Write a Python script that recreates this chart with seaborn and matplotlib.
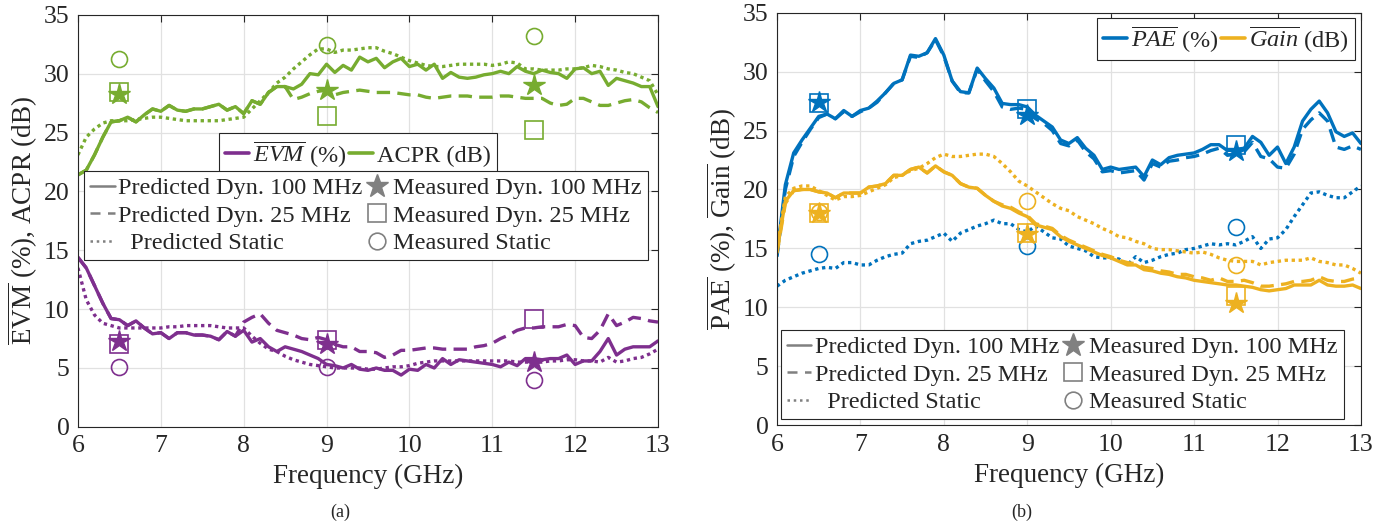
import numpy as np
import matplotlib
matplotlib.use("Agg")
import matplotlib.pyplot as plt
from matplotlib.lines import Line2D
import seaborn as sns

# ---------------- data ----------------
freq = np.round(np.linspace(6.0, 13.0, 71), 1)
meas_freq = [6.5, 9.0, 11.5]

acpr_dyn100 = [21.4, 21.8, 23.1, 24.6, 25.9, 26.0, 26.3, 25.9, 26.5, 27.0,
               26.8, 27.3, 26.9, 26.8, 27.0, 27.0, 27.2, 27.4, 26.9, 27.2,
               26.6, 27.7, 27.4, 28.4, 28.9, 28.9, 28.7, 29.1, 30.0, 29.9,
               30.8, 30.1, 30.7, 30.3, 31.4, 31.0, 31.3, 30.5, 31.0, 31.3,
               30.6, 30.8, 30.3, 30.8, 29.6, 30.1, 29.7, 29.6, 29.7, 29.9,
               30.0, 30.2, 30.0, 30.6, 30.2, 30.0, 30.3, 30.1, 30.0, 29.6,
               30.4, 30.5, 30.0, 30.2, 29.0, 29.6, 29.4, 29.2, 28.9, 28.9,
               27.2]
acpr_dyn25 = [21.4, 21.8, 23.1, 24.6, 25.9, 26.0, 26.3, 25.9, 26.5, 27.0,
              26.8, 27.3, 26.9, 26.8, 27.0, 27.0, 27.2, 27.4, 26.9, 27.2,
              26.6, 27.7, 27.4, 28.4, 28.9, 28.9, 27.8, 28.0, 28.3, 28.5,
              28.6, 28.2, 28.4, 28.5, 28.6, 28.5, 28.4, 28.4, 28.4, 28.3,
              28.2, 28.2, 28.0, 27.9, 28.0, 28.1, 28.1, 28.1, 28.0, 28.0,
              28.0, 28.1, 28.1, 28.0, 27.9, 27.9, 27.9, 27.5, 27.3, 27.4,
              27.9, 27.9, 27.6, 27.3, 27.3, 27.5, 27.7, 27.8, 27.6, 27.1,
              26.7]
acpr_static = [23.1, 24.6, 25.3, 25.8, 26.0, 26.0, 26.0, 26.1, 26.2, 26.3,
               26.3, 26.2, 26.1, 26.0, 26.0, 26.0, 26.0, 26.0, 26.1, 26.2,
               26.3, 27.0, 27.7, 28.4, 29.2, 29.7, 30.4, 31.0, 31.6, 32.1,
               32.1, 31.8, 32.0, 32.0, 32.1, 32.2, 32.2, 31.9, 31.7, 31.4,
               31.1, 30.9, 30.7, 30.6, 30.6, 30.7, 30.8, 30.8, 30.8, 30.8,
               30.7, 30.8, 31.0, 30.9, 30.4, 30.4, 30.3, 30.3, 30.3, 30.4,
               30.4, 30.5, 30.7, 30.6, 30.4, 30.3, 30.1, 30.0, 29.7, 29.4,
               28.2]
acpr_meas_dyn100 = [28.3, 28.6, 29.0]
acpr_meas_dyn25 = [28.4, 26.4, 25.2]
acpr_meas_static = [31.2, 32.4, 33.2]

evm_dyn100 = [14.4, 13.5, 12.0, 10.5, 9.2, 9.1, 8.6, 9.0, 8.4, 7.9,
              8.0, 7.5, 8.0, 8.0, 7.8, 7.8, 7.7, 7.4, 8.1, 7.7,
              8.2, 7.2, 7.5, 6.8, 6.4, 6.8, 6.6, 6.4, 6.1, 5.8,
              5.3, 5.2, 5.0, 5.3, 4.9, 4.8, 5.0, 4.8, 4.8, 4.4,
              4.9, 4.8, 5.3, 5.0, 5.8, 5.3, 5.7, 5.6, 5.5, 5.4,
              5.3, 5.1, 5.5, 5.2, 5.8, 5.8, 5.7, 5.8, 5.8, 6.1,
              5.3, 5.6, 5.6, 6.4, 7.5, 6.1, 6.6, 6.8, 6.8, 6.8,
              7.3]
evm_dyn25 = [14.4, 13.5, 12.0, 10.5, 9.2, 9.1, 8.6, 9.0, 8.4, 7.9,
             8.0, 7.5, 8.0, 8.0, 7.8, 7.8, 7.7, 7.4, 8.1, 7.7,
             8.9, 9.3, 9.6, 8.8, 8.2, 8.0, 7.8, 7.5, 7.4, 7.6,
             7.4, 7.0, 6.8, 6.8, 6.4, 6.4, 6.3, 5.9, 6.1, 6.5,
             6.5, 6.6, 6.7, 6.7, 6.6, 6.6, 6.6, 6.6, 6.8, 6.9,
             7.1, 7.5, 7.8, 8.2, 8.4, 8.4, 8.5, 8.5, 8.5, 8.7,
             8.6, 7.6, 7.5, 8.2, 9.6, 8.6, 8.9, 9.3, 9.2, 9.0,
             8.9]
evm_static = [13.5, 10.8, 9.5, 8.8, 8.6, 8.4, 8.4, 8.4, 8.4, 8.4,
              8.4, 8.5, 8.5, 8.6, 8.6, 8.6, 8.6, 8.5, 8.4, 8.4,
              8.4, 7.7, 7.1, 6.6, 6.4, 6.0, 5.7, 5.5, 5.3, 5.2,
              5.1, 5.0, 5.0, 5.0, 5.0, 4.9, 4.9, 5.0, 5.1, 5.1,
              5.2, 5.4, 5.5, 5.6, 5.6, 5.6, 5.6, 5.6, 5.6, 5.6,
              5.6, 5.6, 5.6, 5.5, 5.5, 5.5, 5.5, 5.6, 5.6, 5.7,
              5.7, 5.6, 5.6, 5.5, 5.9, 5.5, 5.6, 5.8, 5.9, 6.2,
              6.6]
evm_meas_dyn100 = [7.3, 7.0, 5.5]
evm_meas_dyn25 = [7.0, 7.4, 9.2]
evm_meas_static = [5.1, 5.1, 4.0]

pae_dyn100 = [14.5, 20.4, 23.1, 24.2, 25.2, 26.2, 26.4, 26.0, 26.7, 26.2,
              26.7, 26.9, 27.5, 28.2, 29.0, 29.3, 31.4, 31.3, 31.6, 32.8,
              31.4, 29.2, 28.3, 28.2, 30.3, 29.4, 28.6, 27.3, 27.2, 27.2,
              27.0, 26.3, 25.8, 25.3, 24.2, 23.9, 24.4, 23.5, 22.9, 21.7,
              21.9, 21.7, 21.8, 21.9, 21.1, 22.5, 22.1, 22.7, 22.9, 23.0,
              23.1, 23.4, 23.8, 23.8, 23.3, 23.4, 23.5, 24.5, 24.0, 22.9,
              23.6, 22.2, 23.6, 25.8, 26.8, 27.5, 26.5, 24.9, 24.5, 24.8,
              23.9]
pae_dyn25 = [14.3, 20.0, 22.8, 24.0, 25.1, 26.1, 26.4, 26.0, 26.6, 26.2,
             26.6, 26.9, 27.4, 28.2, 29.0, 29.3, 31.3, 31.2, 31.6, 32.7,
             31.3, 29.2, 28.2, 28.2, 30.2, 29.2, 28.3, 27.0, 26.8, 26.9,
             26.8, 26.0, 25.6, 25.0, 23.9, 23.7, 24.2, 23.2, 22.6, 21.5,
             21.6, 21.4, 21.5, 21.6, 20.8, 22.2, 21.9, 22.4, 22.5, 22.7,
             22.8, 23.0, 23.3, 23.5, 22.9, 23.0, 23.2, 24.0, 22.8, 22.6,
             21.9, 21.8, 23.0, 25.1, 25.9, 26.5, 25.8, 23.6, 23.4, 23.7,
             23.4]
pae_static = [11.8, 12.3, 12.6, 12.9, 13.1, 13.3, 13.4, 13.3, 13.8, 13.8,
              13.6, 13.6, 14.0, 14.3, 14.5, 14.6, 15.4, 15.6, 15.7, 16.0,
              16.3, 15.6, 16.3, 16.6, 16.9, 17.1, 17.4, 17.1, 17.1, 16.6,
              16.4, 16.9, 16.4, 15.9, 15.8, 15.2, 15.0, 14.8, 14.3, 14.2,
              14.2, 14.1, 13.6, 14.3, 13.8, 14.0, 14.3, 14.5, 14.6, 14.9,
              15.0, 15.2, 15.4, 15.3, 15.4, 15.3, 15.6, 16.0, 15.0, 15.8,
              15.9, 16.6, 17.7, 18.7, 19.7, 19.8, 19.5, 19.3, 19.3, 19.8,
              20.3]
pae_meas_dyn100 = [27.4, 26.3, 23.3]
pae_meas_dyn25 = [27.3, 26.8, 23.8]
pae_meas_static = [14.5, 15.2, 16.8]

gain_dyn100 = [14.8, 19.0, 19.9, 20.0, 20.0, 19.8, 19.7, 19.3, 19.7, 19.7,
               19.7, 20.2, 20.3, 20.5, 21.2, 21.2, 21.7, 21.9, 21.4, 22.0,
               21.5, 21.2, 20.5, 20.2, 20.1, 19.5, 19.0, 18.6, 18.4, 18.0,
               17.7, 17.0, 16.8, 16.6, 16.0, 15.6, 15.3, 15.0, 14.7, 14.4,
               14.2, 13.9, 13.6, 13.6, 13.2, 13.1, 12.9, 12.8, 12.6, 12.5,
               12.3, 12.2, 12.1, 12.0, 11.9, 11.9, 11.8, 11.7, 11.5, 11.4,
               11.5, 11.6, 11.9, 11.9, 11.9, 12.3, 11.9, 11.8, 11.8, 11.9,
               11.6]
gain_dyn25 = [14.6, 18.8, 19.9, 20.0, 20.0, 19.8, 19.7, 19.3, 19.7, 19.7,
              19.7, 20.2, 20.3, 20.5, 21.2, 21.2, 21.7, 21.9, 21.4, 22.0,
              21.5, 21.2, 20.5, 20.2, 20.1, 19.5, 19.0, 18.7, 18.5, 18.1,
              17.8, 17.1, 16.9, 16.7, 16.1, 15.7, 15.4, 15.1, 14.8, 14.5,
              14.3, 14.0, 13.8, 13.7, 13.4, 13.3, 13.1, 13.0, 12.8, 12.8,
              12.6, 12.5, 12.3, 12.5, 12.2, 12.2, 12.3, 12.1, 11.8, 11.8,
              11.9, 12.0, 12.2, 12.2, 12.3, 12.6, 12.3, 12.2, 12.2, 12.4,
              12.5]
gain_static = [15.0, 19.4, 20.1, 20.3, 20.3, 19.9, 19.5, 19.1, 19.4, 19.4,
               19.5, 19.8, 20.1, 20.4, 21.0, 21.2, 21.6, 21.8, 22.2, 22.7,
               23.0, 22.8, 22.8, 22.9, 23.0, 23.0, 22.8, 22.2, 21.5, 20.7,
               20.3, 19.8, 19.3, 18.8, 18.4, 18.2, 17.7, 17.4, 17.1, 16.7,
               16.4, 16.0, 15.9, 15.6, 15.4, 15.0, 14.9, 14.9, 14.8, 14.7,
               14.6, 14.7, 14.5, 14.2, 14.0, 13.9, 13.9, 13.9, 13.6, 13.8,
               13.9, 14.0, 14.0, 14.0, 14.2, 13.9, 13.8, 13.6, 13.6, 13.3,
               12.9]
gain_meas_dyn100 = [18.0, 16.2, 10.4]
gain_meas_dyn25 = [18.0, 16.3, 11.0]
gain_meas_static = [18.1, 19.0, 13.6]

# ---------------- style ----------------
sns.set_theme(style="white")
plt.rcParams["font.family"] = ["Liberation Serif", "DejaVu Serif"]
plt.rcParams["mathtext.fontset"] = "custom"
plt.rcParams["mathtext.rm"] = "Liberation Serif"
plt.rcParams["mathtext.it"] = "Liberation Serif:italic"
plt.rcParams["mathtext.bf"] = "Liberation Serif:bold"

PURPLE = "#7E2F8E"
GREEN = "#77AC30"
BLUE = "#0072BD"
ORANGE = "#EDB120"
GRAY = "#808080"
LW = 2.4
DASH = (0, (4, 2.2))
DOT = (0, (1, 1.1))
TICK_FS = 18.5
LAB_FS = 19.5
LEG_FS = 17.5

fig = plt.figure(figsize=(13.87, 5.27), dpi=100)
axL = fig.add_axes([0.0562, 0.190, 0.4182, 0.782])
axR = fig.add_axes([0.5602, 0.193, 0.4210, 0.783])


def draw_lines(ax, ys, color):
    for y, ls in zip(ys, ["-", DASH, DOT]):
        sns.lineplot(x=freq, y=y, ax=ax, color=color, linestyle=ls,
                     linewidth=LW, legend=False, errorbar=None)


def draw_markers(ax, ys, color):
    star, sq, circ = ys
    sns.lineplot(x=meas_freq, y=sq, ax=ax, linestyle="", marker="s",
                 markersize=12.5, markerfacecolor="none", markeredgecolor=color,
                 markeredgewidth=1.2, color=color, legend=False, errorbar=None)
    sns.lineplot(x=meas_freq, y=circ, ax=ax, linestyle="", marker="o",
                 markersize=11.5, markerfacecolor="none", markeredgecolor=color,
                 markeredgewidth=1.2, color=color, legend=False, errorbar=None)
    sns.lineplot(x=meas_freq, y=star, ax=ax, linestyle="", marker="*",
                 markersize=16, markerfacecolor=color, markeredgecolor=color,
                 markeredgewidth=1.0, color=color, legend=False, errorbar=None)


draw_lines(axL, [acpr_dyn100, acpr_dyn25, acpr_static], GREEN)
draw_lines(axL, [evm_dyn100, evm_dyn25, evm_static], PURPLE)
draw_markers(axL, [acpr_meas_dyn100, acpr_meas_dyn25, acpr_meas_static], GREEN)
draw_markers(axL, [evm_meas_dyn100, evm_meas_dyn25, evm_meas_static], PURPLE)

draw_lines(axR, [pae_dyn100, pae_dyn25, pae_static], BLUE)
draw_lines(axR, [gain_dyn100, gain_dyn25, gain_static], ORANGE)
draw_markers(axR, [pae_meas_dyn100, pae_meas_dyn25, pae_meas_static], BLUE)
draw_markers(axR, [gain_meas_dyn100, gain_meas_dyn25, gain_meas_static], ORANGE)

for ax in (axL, axR):
    ax.set_xlim(6, 13)
    ax.set_ylim(0, 35)
    ax.set_xticks(range(6, 14))
    ax.set_yticks(range(0, 36, 5))
    ax.grid(True, color="#e1e1e1", linewidth=0.9)
    ax.set_axisbelow(True)
    ax.tick_params(direction="in", top=True, right=True, length=5,
                   width=0.8, labelsize=TICK_FS, colors="#262626",
                   labelcolor="#262626", pad=6)
    for s in ax.spines.values():
        s.set_color("#262626")
        s.set_linewidth(0.8)
    ax.set_xlabel("Frequency (GHz)", fontsize=LAB_FS, color="#262626", labelpad=5)

axL.set_ylabel(r"$\overline{\mathrm{EVM}}$ (%), ACPR (dB)", fontsize=LAB_FS,
               color="#262626", labelpad=3)
axR.set_ylabel(r"$\overline{\mathrm{PAE}}$ (%), $\overline{\mathrm{Gain}}$ (dB)",
               fontsize=LAB_FS, color="#262626", labelpad=3)

# ---------------- legends ----------------
style_handles = [
    Line2D([], [], color=GRAY, lw=1.8, linestyle="-"),
    Line2D([], [], color=GRAY, lw=1.8, linestyle=(0, (4, 3))),
    Line2D([], [], color=GRAY, lw=1.8, linestyle=(0, (1, 1.5))),
    Line2D([], [], color=GRAY, linestyle="", marker="*", markersize=17),
    Line2D([], [], color=GRAY, linestyle="", marker="s", markersize=13,
           markerfacecolor="none", markeredgewidth=1.2),
    Line2D([], [], color=GRAY, linestyle="", marker="o", markersize=12,
           markerfacecolor="none", markeredgewidth=1.2),
]
style_labels = ["Predicted Dyn. 100 MHz", "Predicted Dyn. 25 MHz",
                "  Predicted Static", "Measured Dyn. 100 MHz",
                "Measured Dyn. 25 MHz", "Measured Static"]

leg_kw = dict(fontsize=LEG_FS, frameon=True, fancybox=False, framealpha=1,
              edgecolor="#262626", borderaxespad=0, handletextpad=0.15,
              columnspacing=0.1, borderpad=0.25, handlelength=1.0)

legL1 = axL.legend([Line2D([], [], color=PURPLE, lw=2.6), Line2D([], [], color=GREEN, lw=2.6)],
                   [r"$\overline{EVM}$ (%)", "ACPR (dB)"], ncol=2,
                   loc="upper left", bbox_to_anchor=(0.243, 0.714),
                   labelspacing=0.1, **leg_kw)
axL.add_artist(legL1)
legL2 = axL.legend(style_handles, style_labels, ncol=2, loc="upper left",
                   bbox_to_anchor=(0.011, 0.62), labelspacing=0.22, **leg_kw)
for leg in (legL1, legL2):
    leg.get_frame().set_linewidth(0.8)

legR1 = axR.legend([Line2D([], [], color=BLUE, lw=2.6), Line2D([], [], color=ORANGE, lw=2.6)],
                   [r"$\overline{PAE}$ (%)", r"$\overline{Gain}$ (dB)"], ncol=2,
                   loc="upper right", bbox_to_anchor=(0.99, 0.988),
                   labelspacing=0.1, **leg_kw)
axR.add_artist(legR1)
legR2 = axR.legend(style_handles, style_labels, ncol=2, loc="lower left",
                   bbox_to_anchor=(0.006, 0.015), labelspacing=0.22, **leg_kw)
for leg in (legR1, legR2):
    leg.get_frame().set_linewidth(0.8)

fig.text(0.245, 0.012, "(a)", fontsize=13, ha="center", va="bottom")
fig.text(0.737, 0.012, "(b)", fontsize=13, ha="center", va="bottom")

fig.savefig("out.png", dpi=100)
